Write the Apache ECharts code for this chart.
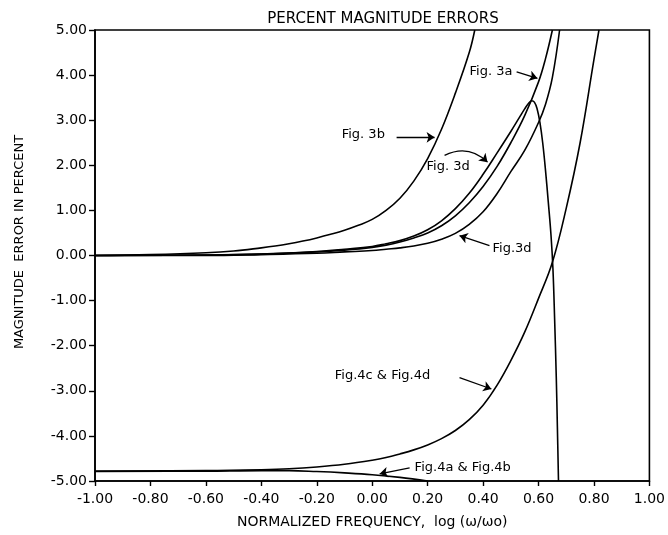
<!DOCTYPE html>
<html>
<head>
<meta charset="utf-8">
<style>
  html, body { margin: 0; padding: 0; background: #fff; }
  #chart { width: 668px; height: 535px; }
</style>
<script src="https://cdn.jsdelivr.net/npm/echarts@6/dist/echarts.min.js"></script>
</head>
<body>
<div id="chart"></div>
<script>
// Percent magnitude error curves, x = log(w/wo), y = error in percent
const fig3b = [[-1,0],[-0.8,0.02],[-0.6,0.06],[-0.5,0.1],[-0.4,0.17],[-0.35,0.21],[-0.3,0.26],[-0.25,0.32],[-0.2,0.39],[-0.15,0.47],[-0.1,0.56],[-0.05,0.67],[0,0.8],[0.05,1.0],[0.1,1.27],[0.15,1.65],[0.2,2.15],[0.25,2.8],[0.3,3.6],[0.35,4.5],[0.37,5.0]];
const fig3a = [[-1,0],[-0.6,0.01],[-0.4,0.03],[-0.2,0.08],[-0.1,0.12],[0,0.18],[0.05,0.23],[0.1,0.3],[0.15,0.39],[0.2,0.5],[0.25,0.66],[0.3,0.88],[0.35,1.17],[0.4,1.53],[0.45,1.97],[0.5,2.5],[0.55,3.1],[0.6,3.85],[0.625,4.36],[0.65,5.0]];
const fig3dUpper = [[-1,0],[-0.6,0.01],[-0.4,0.03],[-0.2,0.09],[-0.1,0.14],[0,0.2],[0.05,0.26],[0.1,0.33],[0.15,0.43],[0.2,0.57],[0.25,0.77],[0.3,1.04],[0.35,1.38],[0.4,1.8],[0.45,2.27],[0.5,2.75],[0.53,3.05],[0.55,3.25],[0.565,3.38],[0.575,3.43],[0.585,3.4],[0.595,3.25],[0.605,2.95],[0.615,2.5],[0.625,1.9],[0.635,1.2],[0.645,0.45],[0.652,-0.3],[0.658,-1.4],[0.664,-2.7],[0.668,-3.8],[0.672,-5.0]];
const fig3dLower = [[-1,0],[-0.6,0.0],[-0.4,0.02],[-0.2,0.05],[-0.1,0.08],[0,0.11],[0.05,0.14],[0.1,0.17],[0.15,0.21],[0.2,0.27],[0.25,0.36],[0.3,0.49],[0.35,0.69],[0.4,0.97],[0.45,1.37],[0.5,1.86],[0.55,2.33],[0.6,2.95],[0.625,3.35],[0.65,3.95],[0.676,5.0]];
const fig4cd = [[-1,-4.78],[-0.6,-4.77],[-0.4,-4.75],[-0.3,-4.73],[-0.2,-4.69],[-0.1,-4.63],[0,-4.54],[0.05,-4.48],[0.1,-4.4],[0.15,-4.31],[0.2,-4.2],[0.25,-4.06],[0.3,-3.88],[0.35,-3.64],[0.4,-3.32],[0.45,-2.88],[0.5,-2.33],[0.55,-1.7],[0.6,-0.95],[0.65,-0.15],[0.7,1.05],[0.75,2.5],[0.8,4.35],[0.818,5.0]];
const fig4ab = [[-1,-4.79],[-0.6,-4.78],[-0.4,-4.77],[-0.3,-4.77],[-0.2,-4.79],[-0.1,-4.82],[0,-4.86],[0.1,-4.92],[0.2,-5.0]];

// Axis tick values
const xTicks = [-1.0,-0.8,-0.6,-0.4,-0.2,0.0,0.2,0.4,0.6,0.8,1.0];
const yTicks = [-5,-4,-3,-2,-1,0,1,2,3,4,5];

// Curve callouts: label anchor and leader arrow (tail -> head), in axis units
const calloutText = ['Fig. 3a', 'Fig. 3b', 'Fig. 3d', 'Fig.3d', 'Fig.4c & Fig.4d', 'Fig.4a & Fig.4b'];
const calloutAnchor = [[0.351,4.07],[-0.11,2.67],[0.196,1.96],[0.434,0.16],[-0.135,-2.67],[0.153,-4.71]];
const arrowTail = [[0.521,4.07],[0.088,2.62],[0.261,2.22],[0.423,0.22],[0.315,-2.71],[0.135,-4.71]];
const arrowHead = [[0.596,3.93],[0.225,2.62],[0.416,2.07],[0.315,0.44],[0.43,-2.96],[0.027,-4.84]];
const arrowBend = [0, 0, 0.35, 0, 0, 0];

const FONT = 'DejaVu Sans';
const INK = '#000';

const curve = (name, data) => ({
  name, type: 'line', data, showSymbol: false, symbol: 'none',
  smooth: 0.4, clip: true,
  lineStyle: { color: INK, width: 1.6 }, z: 3
});

const yNameGraphic = {
  id: 'yname', type: 'text', x: 20, y: 242, rotation: Math.PI / 2,
  style: { text: 'MAGNITUDE  ERROR IN PERCENT', fontFamily: FONT, fontSize: 13, fill: INK, align: 'center', verticalAlign: 'middle' }
};

const chart = echarts.init(document.getElementById('chart'));
chart.setOption({
  animation: false,
  backgroundColor: '#fff',
  title: {
    text: 'PERCENT MAGNITUDE ERRORS',
    left: 378, top: 7, textAlign: 'center',
    textStyle: { fontFamily: FONT, fontSize: 15, fontWeight: 'normal', color: INK }
  },
  grid: { left: 95, right: 18, top: 30, bottom: 54, show: true, borderColor: INK, borderWidth: 1.6, backgroundColor: 'transparent' },
  xAxis: {
    type: 'value', min: -1, max: 1, interval: 0.2,
    name: 'NORMALIZED FREQUENCY,  log (\u03c9/\u03c9o)', nameLocation: 'middle', nameGap: 34,
    nameTextStyle: { fontFamily: FONT, fontSize: 14, color: INK },
    axisLine: { show: true, onZero: false, lineStyle: { color: INK, width: 1.6 } },
    axisTick: { show: true, length: 5, lineStyle: { color: INK, width: 1.4 } },
    axisLabel: {
      margin: 11, fontFamily: FONT, fontSize: 14, color: INK,
      formatter: v => xTicks.some(t => Math.abs(t - v) < 1e-9) ? v.toFixed(2) : ''
    },
    splitLine: { show: false }
  },
  yAxis: {
    type: 'value', min: -5, max: 5, interval: 1,
    axisLine: { show: true, onZero: false, lineStyle: { color: INK, width: 1.6 } },
    axisTick: { show: true, length: 6, lineStyle: { color: INK, width: 1.4 } },
    axisLabel: {
      margin: 8, fontFamily: FONT, fontSize: 14, color: INK,
      formatter: v => yTicks.some(t => Math.abs(t - v) < 1e-9) ? v.toFixed(2) : ''
    },
    splitLine: { show: false }
  },
  graphic: [yNameGraphic],
  series: [
    curve('Fig. 3b', fig3b),
    curve('Fig. 3a', fig3a),
    curve('Fig. 3d upper', fig3dUpper),
    curve('Fig. 3d lower', fig3dLower),
    curve('Fig. 4c & Fig. 4d', fig4cd),
    curve('Fig. 4a & Fig. 4b', fig4ab),
    {
      name: 'callout arrows', type: 'lines', coordinateSystem: 'cartesian2d',
      symbol: ['none', 'arrow'], symbolSize: 8, z: 4,
      lineStyle: { color: INK, width: 1.3, opacity: 1 },
      data: arrowTail.map((t, i) => ({ coords: [t, arrowHead[i]], lineStyle: { curveness: arrowBend[i] } }))
    }
  ]
});

// Callout labels placed through the grid's own coordinate conversion
const labelGraphics = calloutAnchor.map((a, i) => {
  const [px, py] = chart.convertToPixel({ gridIndex: 0 }, a);
  return {
    id: 'callout' + i, type: 'text', x: px, y: py, z: 10,
    style: { text: calloutText[i], fontFamily: FONT, fontSize: 13, fill: INK, align: 'left', verticalAlign: 'middle' }
  };
});
chart.setOption({ graphic: [yNameGraphic].concat(labelGraphics) });
</script>
</body>
</html>
